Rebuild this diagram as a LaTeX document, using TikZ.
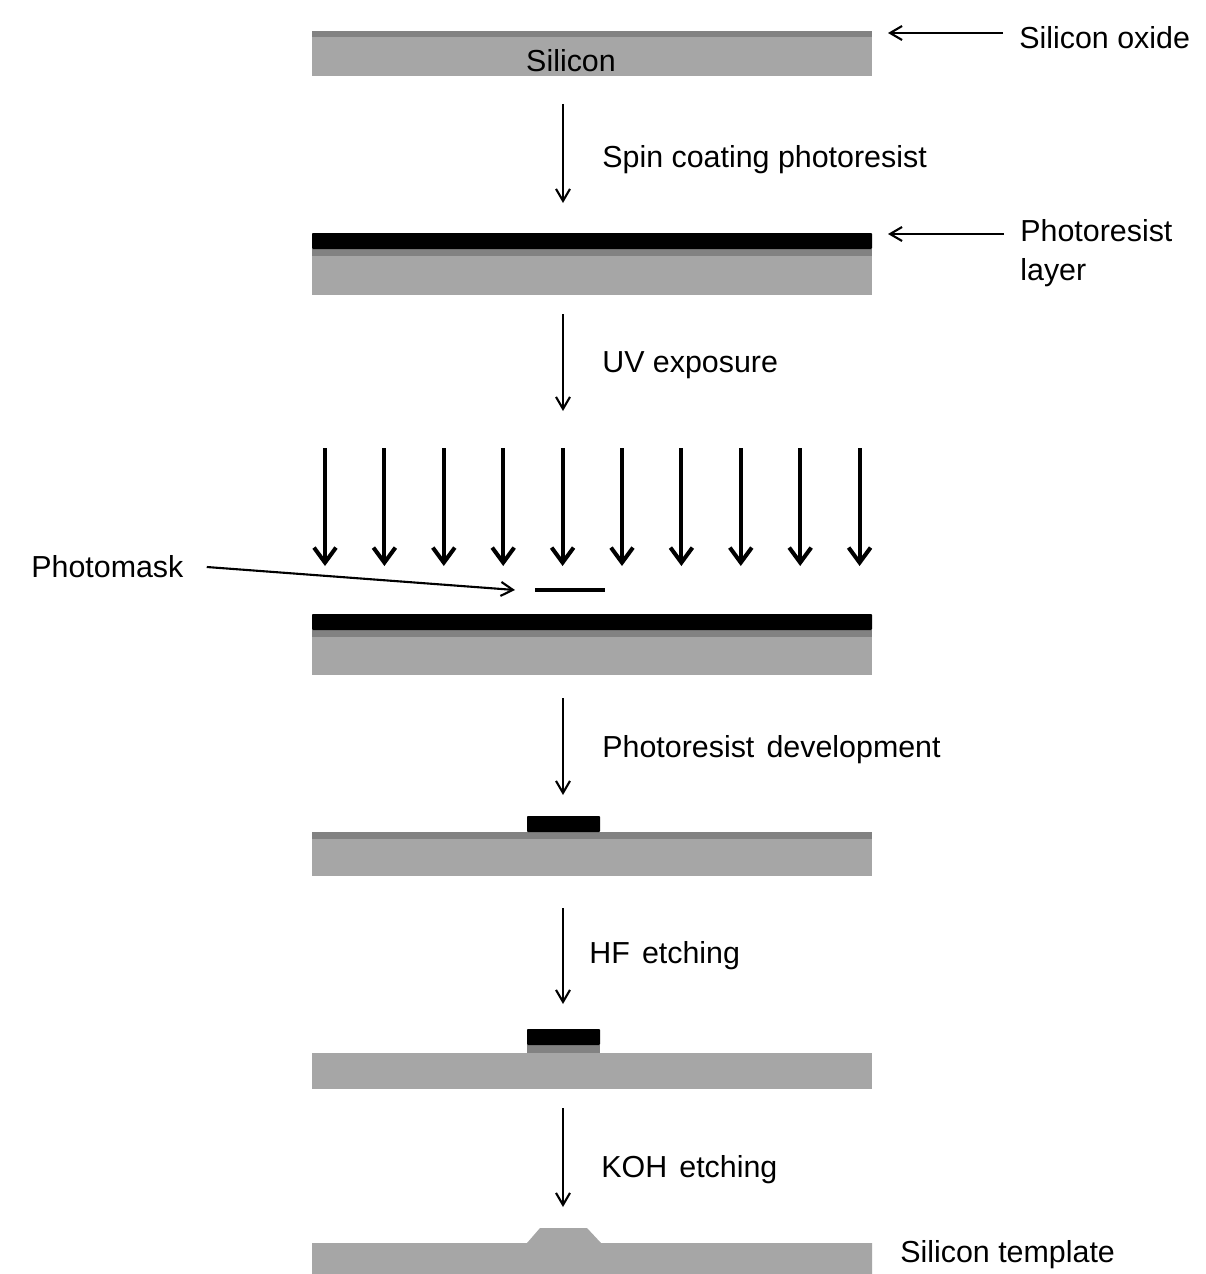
\documentclass[tikz,border=0pt]{standalone}
\usepackage{fontspec}
\setmainfont{Liberation Sans}
\usetikzlibrary{arrows.meta}
\definecolor{sil}{HTML}{A6A6A6}
\definecolor{oxi}{HTML}{828282}

\begin{document}
\begin{tikzpicture}[x=0.02cm,y=-0.02cm,
    lbl/.style={anchor=west,inner sep=0pt,yshift=-0.06cm,font=\fontsize{17.3}{22}\selectfont},
    stp/.style={-{Straight Barb[length=2.4mm,width=2.8mm]},line width=1.2pt},
    uv/.style={-{Straight Barb[length=3mm,width=4.4mm]},line width=2.3pt},
    res/.style={fill=black,rounded corners=0.5pt}]
      \useasboundingbox[fill=white] (0,0) rectangle (1206,1274);

      % wafer 1: oxidised silicon
      \fill[sil] (312,37) rectangle (872,76);
      \fill[oxi] (312,31) rectangle (872,37);
      \node[lbl,anchor=center] (si) at (571,58) {Silicon};
      \node[lbl] (oxide) at (1019,35) {Silicon oxide};
      \coordinate (oxtip) at (888,33);
      \draw[stp] ([xshift=-0.32cm]oxide.west |- oxtip) -- (oxtip);

      % spin coating
      \coordinate (a1) at (563,104);
      \coordinate (b1) at (563,203);
      \draw[stp] (a1) -- (b1);
      \node[lbl] (spin) at (602,157) {Spin coating photoresist};

      % wafer 2: photoresist layer
      \fill[sil] (312,256) rectangle (872,295);
      \fill[oxi] (312,249) rectangle (872,256);
      \fill[res] (312,233) rectangle (872,249);
      \node[lbl,anchor=north west,align=left] (prl) at (1020,216)
        {Photoresist\\layer};
      \coordinate (prtip) at (888,234);
      \draw[stp] ([xshift=-0.32cm]prl.west |- prtip) -- (prtip);

      % UV exposure
      \coordinate (a2) at (563,314);
      \coordinate (b2) at (563,411);
      \draw[stp] (a2) -- (b2);
      \node[lbl] (uvexp) at (602,362) {UV exposure};

      \foreach \i in {0,...,9}
        \draw[uv] (325+59.4*\i,448) -- (325+59.4*\i,566);

      % photomask
      \draw[line width=2.3pt] (535,590) -- (605,590);
      \coordinate (mtip) at (515,590);
      \node[lbl] (pm) at (31,564) {Photomask};
      \draw[stp] ([shift={(23,0)}]pm.east) -- (mtip);

      % wafer 3
      \fill[sil] (312,637) rectangle (872,675);
      \fill[oxi] (312,630) rectangle (872,637);
      \fill[res] (312,614) rectangle (872,630);

      % development
      \coordinate (a3) at (563,698);
      \coordinate (b3) at (563,795);
      \draw[stp] (a3) -- (b3);
      \node[lbl] (dev) at (602,747) {Photoresist\hspace{0.4em}development};

      % wafer 4
      \fill[sil] (312,839) rectangle (872,876);
      \fill[oxi] (312,832) rectangle (872,839);
      \fill[res] (527,816) rectangle (600,832);

      % HF etching
      \coordinate (a4) at (563,908);
      \coordinate (b4) at (563,1004);
      \draw[stp] (a4) -- (b4);
      \node[lbl] (hf) at (589,953) {HF\hspace{0.4em}etching};

      % wafer 5
      \fill[sil] (312,1053) rectangle (872,1089);
      \fill[oxi] (527,1045) rectangle (600,1053);
      \fill[res] (527,1029) rectangle (600,1045);

      % KOH etching
      \coordinate (a5) at (563,1108);
      \coordinate (b5) at (563,1207);
      \draw[stp] (a5) -- (b5);
      \node[lbl] (koh) at (601,1167) {KOH\hspace{0.4em}etching};

      % wafer 6: template
      \fill[sil] (312,1274) -- (312,1243) -- (527,1243) -- (540,1228)
        -- (587,1228) -- (601,1243) -- (872,1243) -- (872,1274) -- cycle;
      \node[lbl] (tmpl) at (900,1252) {Silicon template};
\end{tikzpicture}
\end{document}
